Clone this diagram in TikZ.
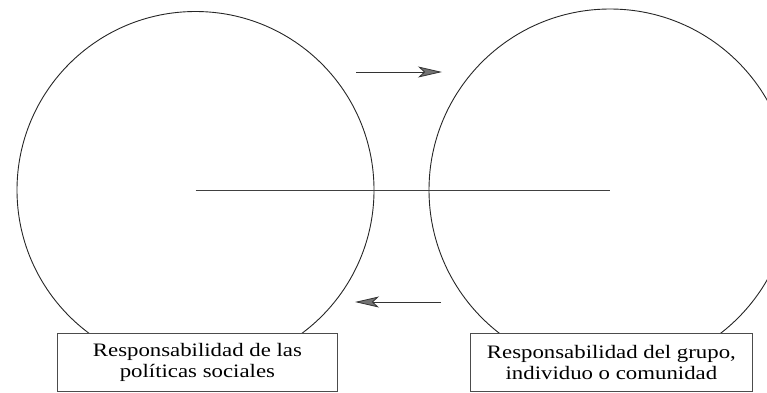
\documentclass[tikz,border=0pt]{standalone}
\usepackage{fontspec}
\setmainfont{Liberation Serif}
\newfontfamily\boxfont[FakeStretch=1.2]{Liberation Serif}
\usetikzlibrary{arrows.meta}
\tikzset{
  ring/.style={draw=black!85, line width=0.9pt, circle, inner sep=0pt},
  labelbox/.style={draw=black!70, line width=0.8pt, fill=white, inner sep=0pt,
    minimum height=58pt, align=center, font=\boxfont\fontsize{19}{21}\selectfont},
  flow/.style={line width=0.8pt, draw=black!80,
    -{Stealth[length=24pt, width=11pt, inset=6pt, fill=black!55]}},
  axis/.style={draw=black!75, line width=0.8pt}
}
\begin{document}
\begin{tikzpicture}[x=1pt,y=-1pt]
\useasboundingbox (0,0) rectangle (767,392);
\clip (0,0) rectangle (767,392);
\node[ring, minimum size=357pt] (lc) at (195.5,190) {};
\node[ring, minimum size=362pt] (rc) at (610,190) {};
\draw[axis] (lc.center) -- (rc.center);
\coordinate (t1) at (356,72);
\coordinate (t2) at (442,72);
\coordinate (b1) at (441,302);
\coordinate (b2) at (355,302);
\draw[flow] (t1) -- (t2);
\draw[flow] (b1) -- (b2);
\node[labelbox, minimum width=280pt, anchor=north west] (lb) at (57,333)
  {Responsabilidad de las\\políticas sociales};
\node[labelbox, minimum width=282pt, anchor=north west] (rb) at (470,333)
  {Responsabilidad del grupo,\\individuo o comunidad};
\end{tikzpicture}
\end{document}
